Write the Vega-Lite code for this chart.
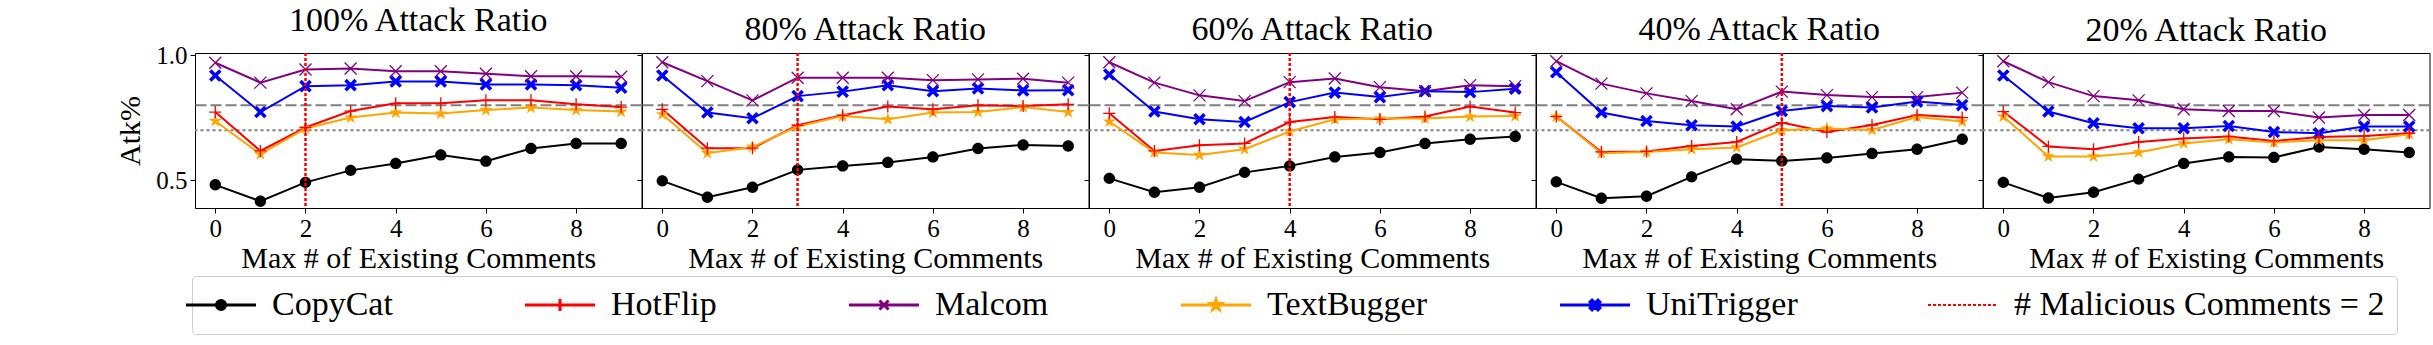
{
  "$schema": "https://vega.github.io/schema/vega-lite/v6.json",
  "padding": {"left": 115, "top": 3, "right": 0, "bottom": 0},
  "background": "white",
  "spacing": 0,
  "bounds": "flush",
  "datasets": {
    "thresholds": [{"line": "upper", "level": 0.8}, {"line": "lower", "level": 0.7}],
    "vlines": [
      {"ratio": "100%", "malicious": 2},
      {"ratio": "80%", "malicious": 3},
      {"ratio": "60%", "malicious": 4},
      {"ratio": "40%", "malicious": 5}
    ],
    "atk": [
      {"ratio": "100%", "method": "CopyCat", "comments": 0, "atk": 0.481},
      {"ratio": "100%", "method": "CopyCat", "comments": 1, "atk": 0.415},
      {"ratio": "100%", "method": "CopyCat", "comments": 2, "atk": 0.491},
      {"ratio": "100%", "method": "CopyCat", "comments": 3, "atk": 0.539},
      {"ratio": "100%", "method": "CopyCat", "comments": 4, "atk": 0.567},
      {"ratio": "100%", "method": "CopyCat", "comments": 5, "atk": 0.601},
      {"ratio": "100%", "method": "CopyCat", "comments": 6, "atk": 0.576},
      {"ratio": "100%", "method": "CopyCat", "comments": 7, "atk": 0.627},
      {"ratio": "100%", "method": "CopyCat", "comments": 8, "atk": 0.647},
      {"ratio": "100%", "method": "CopyCat", "comments": 9, "atk": 0.647},
      {"ratio": "100%", "method": "HotFlip", "comments": 0, "atk": 0.773},
      {"ratio": "100%", "method": "HotFlip", "comments": 1, "atk": 0.617},
      {"ratio": "100%", "method": "HotFlip", "comments": 2, "atk": 0.711},
      {"ratio": "100%", "method": "HotFlip", "comments": 3, "atk": 0.777},
      {"ratio": "100%", "method": "HotFlip", "comments": 4, "atk": 0.808},
      {"ratio": "100%", "method": "HotFlip", "comments": 5, "atk": 0.808},
      {"ratio": "100%", "method": "HotFlip", "comments": 6, "atk": 0.820},
      {"ratio": "100%", "method": "HotFlip", "comments": 7, "atk": 0.820},
      {"ratio": "100%", "method": "HotFlip", "comments": 8, "atk": 0.804},
      {"ratio": "100%", "method": "HotFlip", "comments": 9, "atk": 0.793},
      {"ratio": "100%", "method": "Malcom", "comments": 0, "atk": 0.971},
      {"ratio": "100%", "method": "Malcom", "comments": 1, "atk": 0.891},
      {"ratio": "100%", "method": "Malcom", "comments": 2, "atk": 0.944},
      {"ratio": "100%", "method": "Malcom", "comments": 3, "atk": 0.948},
      {"ratio": "100%", "method": "Malcom", "comments": 4, "atk": 0.937},
      {"ratio": "100%", "method": "Malcom", "comments": 5, "atk": 0.937},
      {"ratio": "100%", "method": "Malcom", "comments": 6, "atk": 0.927},
      {"ratio": "100%", "method": "Malcom", "comments": 7, "atk": 0.917},
      {"ratio": "100%", "method": "Malcom", "comments": 8, "atk": 0.917},
      {"ratio": "100%", "method": "Malcom", "comments": 9, "atk": 0.915},
      {"ratio": "100%", "method": "TextBugger", "comments": 0, "atk": 0.737},
      {"ratio": "100%", "method": "TextBugger", "comments": 1, "atk": 0.604},
      {"ratio": "100%", "method": "TextBugger", "comments": 2, "atk": 0.707},
      {"ratio": "100%", "method": "TextBugger", "comments": 3, "atk": 0.751},
      {"ratio": "100%", "method": "TextBugger", "comments": 4, "atk": 0.771},
      {"ratio": "100%", "method": "TextBugger", "comments": 5, "atk": 0.767},
      {"ratio": "100%", "method": "TextBugger", "comments": 6, "atk": 0.781},
      {"ratio": "100%", "method": "TextBugger", "comments": 7, "atk": 0.791},
      {"ratio": "100%", "method": "TextBugger", "comments": 8, "atk": 0.781},
      {"ratio": "100%", "method": "TextBugger", "comments": 9, "atk": 0.775},
      {"ratio": "100%", "method": "UniTrigger", "comments": 0, "atk": 0.920},
      {"ratio": "100%", "method": "UniTrigger", "comments": 1, "atk": 0.773},
      {"ratio": "100%", "method": "UniTrigger", "comments": 2, "atk": 0.877},
      {"ratio": "100%", "method": "UniTrigger", "comments": 3, "atk": 0.881},
      {"ratio": "100%", "method": "UniTrigger", "comments": 4, "atk": 0.896},
      {"ratio": "100%", "method": "UniTrigger", "comments": 5, "atk": 0.896},
      {"ratio": "100%", "method": "UniTrigger", "comments": 6, "atk": 0.884},
      {"ratio": "100%", "method": "UniTrigger", "comments": 7, "atk": 0.884},
      {"ratio": "100%", "method": "UniTrigger", "comments": 8, "atk": 0.881},
      {"ratio": "100%", "method": "UniTrigger", "comments": 9, "atk": 0.871},

      {"ratio": "80%", "method": "CopyCat", "comments": 0, "atk": 0.497},
      {"ratio": "80%", "method": "CopyCat", "comments": 1, "atk": 0.431},
      {"ratio": "80%", "method": "CopyCat", "comments": 2, "atk": 0.471},
      {"ratio": "80%", "method": "CopyCat", "comments": 3, "atk": 0.541},
      {"ratio": "80%", "method": "CopyCat", "comments": 4, "atk": 0.557},
      {"ratio": "80%", "method": "CopyCat", "comments": 5, "atk": 0.571},
      {"ratio": "80%", "method": "CopyCat", "comments": 6, "atk": 0.593},
      {"ratio": "80%", "method": "CopyCat", "comments": 7, "atk": 0.627},
      {"ratio": "80%", "method": "CopyCat", "comments": 8, "atk": 0.641},
      {"ratio": "80%", "method": "CopyCat", "comments": 9, "atk": 0.637},
      {"ratio": "80%", "method": "HotFlip", "comments": 0, "atk": 0.784},
      {"ratio": "80%", "method": "HotFlip", "comments": 1, "atk": 0.628},
      {"ratio": "80%", "method": "HotFlip", "comments": 2, "atk": 0.628},
      {"ratio": "80%", "method": "HotFlip", "comments": 3, "atk": 0.720},
      {"ratio": "80%", "method": "HotFlip", "comments": 4, "atk": 0.760},
      {"ratio": "80%", "method": "HotFlip", "comments": 5, "atk": 0.795},
      {"ratio": "80%", "method": "HotFlip", "comments": 6, "atk": 0.784},
      {"ratio": "80%", "method": "HotFlip", "comments": 7, "atk": 0.800},
      {"ratio": "80%", "method": "HotFlip", "comments": 8, "atk": 0.797},
      {"ratio": "80%", "method": "HotFlip", "comments": 9, "atk": 0.804},
      {"ratio": "80%", "method": "Malcom", "comments": 0, "atk": 0.973},
      {"ratio": "80%", "method": "Malcom", "comments": 1, "atk": 0.897},
      {"ratio": "80%", "method": "Malcom", "comments": 2, "atk": 0.820},
      {"ratio": "80%", "method": "Malcom", "comments": 3, "atk": 0.911},
      {"ratio": "80%", "method": "Malcom", "comments": 4, "atk": 0.911},
      {"ratio": "80%", "method": "Malcom", "comments": 5, "atk": 0.911},
      {"ratio": "80%", "method": "Malcom", "comments": 6, "atk": 0.901},
      {"ratio": "80%", "method": "Malcom", "comments": 7, "atk": 0.904},
      {"ratio": "80%", "method": "Malcom", "comments": 8, "atk": 0.907},
      {"ratio": "80%", "method": "Malcom", "comments": 9, "atk": 0.891},
      {"ratio": "80%", "method": "TextBugger", "comments": 0, "atk": 0.764},
      {"ratio": "80%", "method": "TextBugger", "comments": 1, "atk": 0.608},
      {"ratio": "80%", "method": "TextBugger", "comments": 2, "atk": 0.633},
      {"ratio": "80%", "method": "TextBugger", "comments": 3, "atk": 0.715},
      {"ratio": "80%", "method": "TextBugger", "comments": 4, "atk": 0.757},
      {"ratio": "80%", "method": "TextBugger", "comments": 5, "atk": 0.744},
      {"ratio": "80%", "method": "TextBugger", "comments": 6, "atk": 0.771},
      {"ratio": "80%", "method": "TextBugger", "comments": 7, "atk": 0.773},
      {"ratio": "80%", "method": "TextBugger", "comments": 8, "atk": 0.793},
      {"ratio": "80%", "method": "TextBugger", "comments": 9, "atk": 0.773},
      {"ratio": "80%", "method": "UniTrigger", "comments": 0, "atk": 0.920},
      {"ratio": "80%", "method": "UniTrigger", "comments": 1, "atk": 0.771},
      {"ratio": "80%", "method": "UniTrigger", "comments": 2, "atk": 0.748},
      {"ratio": "80%", "method": "UniTrigger", "comments": 3, "atk": 0.837},
      {"ratio": "80%", "method": "UniTrigger", "comments": 4, "atk": 0.855},
      {"ratio": "80%", "method": "UniTrigger", "comments": 5, "atk": 0.881},
      {"ratio": "80%", "method": "UniTrigger", "comments": 6, "atk": 0.857},
      {"ratio": "80%", "method": "UniTrigger", "comments": 7, "atk": 0.868},
      {"ratio": "80%", "method": "UniTrigger", "comments": 8, "atk": 0.860},
      {"ratio": "80%", "method": "UniTrigger", "comments": 9, "atk": 0.861},

      {"ratio": "60%", "method": "CopyCat", "comments": 0, "atk": 0.507},
      {"ratio": "60%", "method": "CopyCat", "comments": 1, "atk": 0.451},
      {"ratio": "60%", "method": "CopyCat", "comments": 2, "atk": 0.471},
      {"ratio": "60%", "method": "CopyCat", "comments": 3, "atk": 0.531},
      {"ratio": "60%", "method": "CopyCat", "comments": 4, "atk": 0.557},
      {"ratio": "60%", "method": "CopyCat", "comments": 5, "atk": 0.593},
      {"ratio": "60%", "method": "CopyCat", "comments": 6, "atk": 0.611},
      {"ratio": "60%", "method": "CopyCat", "comments": 7, "atk": 0.647},
      {"ratio": "60%", "method": "CopyCat", "comments": 8, "atk": 0.664},
      {"ratio": "60%", "method": "CopyCat", "comments": 9, "atk": 0.675},
      {"ratio": "60%", "method": "HotFlip", "comments": 0, "atk": 0.768},
      {"ratio": "60%", "method": "HotFlip", "comments": 1, "atk": 0.617},
      {"ratio": "60%", "method": "HotFlip", "comments": 2, "atk": 0.640},
      {"ratio": "60%", "method": "HotFlip", "comments": 3, "atk": 0.647},
      {"ratio": "60%", "method": "HotFlip", "comments": 4, "atk": 0.733},
      {"ratio": "60%", "method": "HotFlip", "comments": 5, "atk": 0.753},
      {"ratio": "60%", "method": "HotFlip", "comments": 6, "atk": 0.744},
      {"ratio": "60%", "method": "HotFlip", "comments": 7, "atk": 0.755},
      {"ratio": "60%", "method": "HotFlip", "comments": 8, "atk": 0.795},
      {"ratio": "60%", "method": "HotFlip", "comments": 9, "atk": 0.771},
      {"ratio": "60%", "method": "Malcom", "comments": 0, "atk": 0.973},
      {"ratio": "60%", "method": "Malcom", "comments": 1, "atk": 0.891},
      {"ratio": "60%", "method": "Malcom", "comments": 2, "atk": 0.840},
      {"ratio": "60%", "method": "Malcom", "comments": 3, "atk": 0.817},
      {"ratio": "60%", "method": "Malcom", "comments": 4, "atk": 0.893},
      {"ratio": "60%", "method": "Malcom", "comments": 5, "atk": 0.908},
      {"ratio": "60%", "method": "Malcom", "comments": 6, "atk": 0.873},
      {"ratio": "60%", "method": "Malcom", "comments": 7, "atk": 0.857},
      {"ratio": "60%", "method": "Malcom", "comments": 8, "atk": 0.881},
      {"ratio": "60%", "method": "Malcom", "comments": 9, "atk": 0.877},
      {"ratio": "60%", "method": "TextBugger", "comments": 0, "atk": 0.735},
      {"ratio": "60%", "method": "TextBugger", "comments": 1, "atk": 0.611},
      {"ratio": "60%", "method": "TextBugger", "comments": 2, "atk": 0.601},
      {"ratio": "60%", "method": "TextBugger", "comments": 3, "atk": 0.624},
      {"ratio": "60%", "method": "TextBugger", "comments": 4, "atk": 0.695},
      {"ratio": "60%", "method": "TextBugger", "comments": 5, "atk": 0.744},
      {"ratio": "60%", "method": "TextBugger", "comments": 6, "atk": 0.747},
      {"ratio": "60%", "method": "TextBugger", "comments": 7, "atk": 0.747},
      {"ratio": "60%", "method": "TextBugger", "comments": 8, "atk": 0.755},
      {"ratio": "60%", "method": "TextBugger", "comments": 9, "atk": 0.757},
      {"ratio": "60%", "method": "UniTrigger", "comments": 0, "atk": 0.924},
      {"ratio": "60%", "method": "UniTrigger", "comments": 1, "atk": 0.775},
      {"ratio": "60%", "method": "UniTrigger", "comments": 2, "atk": 0.744},
      {"ratio": "60%", "method": "UniTrigger", "comments": 3, "atk": 0.733},
      {"ratio": "60%", "method": "UniTrigger", "comments": 4, "atk": 0.813},
      {"ratio": "60%", "method": "UniTrigger", "comments": 5, "atk": 0.851},
      {"ratio": "60%", "method": "UniTrigger", "comments": 6, "atk": 0.833},
      {"ratio": "60%", "method": "UniTrigger", "comments": 7, "atk": 0.857},
      {"ratio": "60%", "method": "UniTrigger", "comments": 8, "atk": 0.853},
      {"ratio": "60%", "method": "UniTrigger", "comments": 9, "atk": 0.867},

      {"ratio": "40%", "method": "CopyCat", "comments": 0, "atk": 0.493},
      {"ratio": "40%", "method": "CopyCat", "comments": 1, "atk": 0.427},
      {"ratio": "40%", "method": "CopyCat", "comments": 2, "atk": 0.435},
      {"ratio": "40%", "method": "CopyCat", "comments": 3, "atk": 0.513},
      {"ratio": "40%", "method": "CopyCat", "comments": 4, "atk": 0.584},
      {"ratio": "40%", "method": "CopyCat", "comments": 5, "atk": 0.577},
      {"ratio": "40%", "method": "CopyCat", "comments": 6, "atk": 0.589},
      {"ratio": "40%", "method": "CopyCat", "comments": 7, "atk": 0.607},
      {"ratio": "40%", "method": "CopyCat", "comments": 8, "atk": 0.624},
      {"ratio": "40%", "method": "CopyCat", "comments": 9, "atk": 0.664},
      {"ratio": "40%", "method": "HotFlip", "comments": 0, "atk": 0.755},
      {"ratio": "40%", "method": "HotFlip", "comments": 1, "atk": 0.613},
      {"ratio": "40%", "method": "HotFlip", "comments": 2, "atk": 0.615},
      {"ratio": "40%", "method": "HotFlip", "comments": 3, "atk": 0.637},
      {"ratio": "40%", "method": "HotFlip", "comments": 4, "atk": 0.653},
      {"ratio": "40%", "method": "HotFlip", "comments": 5, "atk": 0.731},
      {"ratio": "40%", "method": "HotFlip", "comments": 6, "atk": 0.693},
      {"ratio": "40%", "method": "HotFlip", "comments": 7, "atk": 0.721},
      {"ratio": "40%", "method": "HotFlip", "comments": 8, "atk": 0.761},
      {"ratio": "40%", "method": "HotFlip", "comments": 9, "atk": 0.751},
      {"ratio": "40%", "method": "Malcom", "comments": 0, "atk": 0.977},
      {"ratio": "40%", "method": "Malcom", "comments": 1, "atk": 0.887},
      {"ratio": "40%", "method": "Malcom", "comments": 2, "atk": 0.848},
      {"ratio": "40%", "method": "Malcom", "comments": 3, "atk": 0.817},
      {"ratio": "40%", "method": "Malcom", "comments": 4, "atk": 0.784},
      {"ratio": "40%", "method": "Malcom", "comments": 5, "atk": 0.855},
      {"ratio": "40%", "method": "Malcom", "comments": 6, "atk": 0.841},
      {"ratio": "40%", "method": "Malcom", "comments": 7, "atk": 0.833},
      {"ratio": "40%", "method": "Malcom", "comments": 8, "atk": 0.833},
      {"ratio": "40%", "method": "Malcom", "comments": 9, "atk": 0.851},
      {"ratio": "40%", "method": "TextBugger", "comments": 0, "atk": 0.755},
      {"ratio": "40%", "method": "TextBugger", "comments": 1, "atk": 0.608},
      {"ratio": "40%", "method": "TextBugger", "comments": 2, "atk": 0.613},
      {"ratio": "40%", "method": "TextBugger", "comments": 3, "atk": 0.624},
      {"ratio": "40%", "method": "TextBugger", "comments": 4, "atk": 0.631},
      {"ratio": "40%", "method": "TextBugger", "comments": 5, "atk": 0.700},
      {"ratio": "40%", "method": "TextBugger", "comments": 6, "atk": 0.707},
      {"ratio": "40%", "method": "TextBugger", "comments": 7, "atk": 0.701},
      {"ratio": "40%", "method": "TextBugger", "comments": 8, "atk": 0.753},
      {"ratio": "40%", "method": "TextBugger", "comments": 9, "atk": 0.735},
      {"ratio": "40%", "method": "UniTrigger", "comments": 0, "atk": 0.933},
      {"ratio": "40%", "method": "UniTrigger", "comments": 1, "atk": 0.771},
      {"ratio": "40%", "method": "UniTrigger", "comments": 2, "atk": 0.737},
      {"ratio": "40%", "method": "UniTrigger", "comments": 3, "atk": 0.720},
      {"ratio": "40%", "method": "UniTrigger", "comments": 4, "atk": 0.715},
      {"ratio": "40%", "method": "UniTrigger", "comments": 5, "atk": 0.777},
      {"ratio": "40%", "method": "UniTrigger", "comments": 6, "atk": 0.797},
      {"ratio": "40%", "method": "UniTrigger", "comments": 7, "atk": 0.791},
      {"ratio": "40%", "method": "UniTrigger", "comments": 8, "atk": 0.815},
      {"ratio": "40%", "method": "UniTrigger", "comments": 9, "atk": 0.801},

      {"ratio": "20%", "method": "CopyCat", "comments": 0, "atk": 0.491},
      {"ratio": "20%", "method": "CopyCat", "comments": 1, "atk": 0.428},
      {"ratio": "20%", "method": "CopyCat", "comments": 2, "atk": 0.451},
      {"ratio": "20%", "method": "CopyCat", "comments": 3, "atk": 0.504},
      {"ratio": "20%", "method": "CopyCat", "comments": 4, "atk": 0.567},
      {"ratio": "20%", "method": "CopyCat", "comments": 5, "atk": 0.593},
      {"ratio": "20%", "method": "CopyCat", "comments": 6, "atk": 0.591},
      {"ratio": "20%", "method": "CopyCat", "comments": 7, "atk": 0.633},
      {"ratio": "20%", "method": "CopyCat", "comments": 8, "atk": 0.624},
      {"ratio": "20%", "method": "CopyCat", "comments": 9, "atk": 0.611},
      {"ratio": "20%", "method": "HotFlip", "comments": 0, "atk": 0.775},
      {"ratio": "20%", "method": "HotFlip", "comments": 1, "atk": 0.635},
      {"ratio": "20%", "method": "HotFlip", "comments": 2, "atk": 0.624},
      {"ratio": "20%", "method": "HotFlip", "comments": 3, "atk": 0.653},
      {"ratio": "20%", "method": "HotFlip", "comments": 4, "atk": 0.667},
      {"ratio": "20%", "method": "HotFlip", "comments": 5, "atk": 0.675},
      {"ratio": "20%", "method": "HotFlip", "comments": 6, "atk": 0.657},
      {"ratio": "20%", "method": "HotFlip", "comments": 7, "atk": 0.673},
      {"ratio": "20%", "method": "HotFlip", "comments": 8, "atk": 0.677},
      {"ratio": "20%", "method": "HotFlip", "comments": 9, "atk": 0.688},
      {"ratio": "20%", "method": "Malcom", "comments": 0, "atk": 0.977},
      {"ratio": "20%", "method": "Malcom", "comments": 1, "atk": 0.893},
      {"ratio": "20%", "method": "Malcom", "comments": 2, "atk": 0.837},
      {"ratio": "20%", "method": "Malcom", "comments": 3, "atk": 0.820},
      {"ratio": "20%", "method": "Malcom", "comments": 4, "atk": 0.784},
      {"ratio": "20%", "method": "Malcom", "comments": 5, "atk": 0.777},
      {"ratio": "20%", "method": "Malcom", "comments": 6, "atk": 0.777},
      {"ratio": "20%", "method": "Malcom", "comments": 7, "atk": 0.751},
      {"ratio": "20%", "method": "Malcom", "comments": 8, "atk": 0.761},
      {"ratio": "20%", "method": "Malcom", "comments": 9, "atk": 0.761},
      {"ratio": "20%", "method": "TextBugger", "comments": 0, "atk": 0.755},
      {"ratio": "20%", "method": "TextBugger", "comments": 1, "atk": 0.595},
      {"ratio": "20%", "method": "TextBugger", "comments": 2, "atk": 0.595},
      {"ratio": "20%", "method": "TextBugger", "comments": 3, "atk": 0.611},
      {"ratio": "20%", "method": "TextBugger", "comments": 4, "atk": 0.647},
      {"ratio": "20%", "method": "TextBugger", "comments": 5, "atk": 0.664},
      {"ratio": "20%", "method": "TextBugger", "comments": 6, "atk": 0.651},
      {"ratio": "20%", "method": "TextBugger", "comments": 7, "atk": 0.660},
      {"ratio": "20%", "method": "TextBugger", "comments": 8, "atk": 0.660},
      {"ratio": "20%", "method": "TextBugger", "comments": 9, "atk": 0.684},
      {"ratio": "20%", "method": "UniTrigger", "comments": 0, "atk": 0.920},
      {"ratio": "20%", "method": "UniTrigger", "comments": 1, "atk": 0.775},
      {"ratio": "20%", "method": "UniTrigger", "comments": 2, "atk": 0.728},
      {"ratio": "20%", "method": "UniTrigger", "comments": 3, "atk": 0.708},
      {"ratio": "20%", "method": "UniTrigger", "comments": 4, "atk": 0.708},
      {"ratio": "20%", "method": "UniTrigger", "comments": 5, "atk": 0.717},
      {"ratio": "20%", "method": "UniTrigger", "comments": 6, "atk": 0.693},
      {"ratio": "20%", "method": "UniTrigger", "comments": 7, "atk": 0.688},
      {"ratio": "20%", "method": "UniTrigger", "comments": 8, "atk": 0.715},
      {"ratio": "20%", "method": "UniTrigger", "comments": 9, "atk": 0.715}
    ]
  },
  "hconcat": [
    {
      "title": "100% Attack Ratio",
      "width": 446.5, "height": 155,
      "layer": [
        {"data": {"name": "thresholds"}, "transform": [{"filter": "datum.line === 'upper'"}], "mark": {"type": "rule", "color": "#808080", "strokeWidth": 2, "strokeDash": [11, 4]}, "encoding": {"y": {"field": "level", "type": "quantitative"}}},
        {"data": {"name": "thresholds"}, "transform": [{"filter": "datum.line === 'lower'"}], "mark": {"type": "rule", "color": "#808080", "strokeWidth": 2, "strokeDash": [3, 3]}, "encoding": {"y": {"field": "level", "type": "quantitative"}}},
        {"data": {"name": "atk"}, "transform": [{"filter": "datum.ratio === '100%'"}], "mark": {"type": "line", "strokeWidth": 2},
          "encoding": {
            "x": {"field": "comments", "type": "quantitative", "scale": {"domain": [-0.45, 9.45], "nice": false, "zero": false}, "axis": {"values": [0, 2, 4, 6, 8], "title": "Max # of Existing Comments"}},
            "y": {"field": "atk", "type": "quantitative", "scale": {"domain": [0.388, 1.01], "nice": false, "zero": false}, "axis": {"values": [0.5, 1.0], "format": ".1f", "title": "Atk%", "titlePadding": 10}},
            "color": {"field": "method", "type": "nominal",
              "scale": {"domain": ["CopyCat", "HotFlip", "Malcom", "TextBugger", "UniTrigger", "# Malicious Comments = 2"], "range": ["#000000", "#ff0000", "#800080", "#ffa500", "#0000ff", "#ff0000"]},
              "legend": {
                "title": null, "orient": "none", "legendX": -3, "legendY": 223, "direction": "horizontal", "symbolSize": 4900, "labelFontSize": 34, "labelFont": "Liberation Serif", "labelColor": "black", "labelOffset": 34, "labelLimit": 600, "columnPadding": 126, "padding": 12, "strokeColor": "#cccccc", "fillColor": "white", "cornerRadius": 4,
                "encode": {
                  "labels": {"update": {"font": {"value": "Liberation Serif"}, "fontSize": {"value": 34}, "fill": {"value": "#000000"}}},
                  "symbols": {"update": {
                  "shape": {"signal": "datum.value === 'CopyCat' ? 'M-1,0H1M0.13,0A0.13,0.13,0,1,1,-0.13,0A0.13,0.13,0,1,1,0.13,0Z' : datum.value === 'HotFlip' ? 'M-1,0H1M0,-0.17V0.17' : datum.value === 'Malcom' ? 'M-1,0H1M-0.13,-0.13L0.13,0.13M-0.13,0.13L0.13,-0.13' : datum.value === 'TextBugger' ? 'M-1,0H1M0,-0.15L0.034,-0.046L0.143,-0.046L0.054,0.018L0.088,0.121L0,0.057L-0.088,0.121L-0.054,0.018L-0.143,-0.046L-0.034,-0.046Z' : datum.value === 'UniTrigger' ? 'M-1,0H1M0,-0.056L0.084,-0.14L0.14,-0.084L0.056,0L0.14,0.084L0.084,0.14L0,0.056L-0.084,0.14L-0.14,0.084L-0.056,0L-0.14,-0.084L-0.084,-0.14Z' : 'M-1,0H-0.914M-0.857,0H-0.771M-0.714,0H-0.629M-0.571,0H-0.486M-0.429,0H-0.343M-0.286,0H-0.2M-0.143,0H-0.057M0,0H0.086M0.143,0H0.229M0.286,0H0.371M0.429,0H0.514M0.571,0H0.657M0.714,0H0.8M0.857,0H0.943'"},
                  "fill": {"scale": "color", "field": "value"},
                  "stroke": {"scale": "color", "field": "value"},
                  "strokeWidth": {"signal": "datum.value === '# Malicious Comments = 2' ? 2 : 3"},
                  "opacity": {"value": 1},
                  "size": {"value": 4900}
                }}}
              }
            }
          }
        },
        {"data": {"name": "atk"}, "transform": [{"filter": "datum.ratio === '100%' && (datum.method === 'CopyCat' || datum.method === 'TextBugger' || datum.method === 'UniTrigger')"}], "mark": {"type": "point", "filled": true, "opacity": 1, "size": 144},
          "encoding": {
            "x": {"field": "comments", "type": "quantitative"},
            "y": {"field": "atk", "type": "quantitative"},
            "color": {"field": "method", "type": "nominal", "legend": null},
            "shape": {"field": "method", "type": "nominal", "legend": null, "scale": {"domain": ["CopyCat", "HotFlip", "Malcom", "TextBugger", "UniTrigger"], "range": ["M0.95,0A0.95,0.95,0,1,1,-0.95,0A0.95,0.95,0,1,1,0.95,0Z", "M-1,0H1M0,-1V1", "M-1,-1L1,1M-1,1L1,-1", "M0,-1.15L0.259,-0.355L1.094,-0.355L0.417,0.136L0.676,0.93L0,0.439L-0.676,0.93L-0.417,0.136L-1.094,-0.355L-0.259,-0.355Z", "M0,-0.42L0.63,-1.05L1.05,-0.63L0.42,0L1.05,0.63L0.63,1.05L0,0.42L-0.63,1.05L-1.05,0.63L-0.42,0L-1.05,-0.63L-0.63,-1.05Z"]}}
          }
        },
        {"data": {"name": "atk"}, "transform": [{"filter": "datum.ratio === '100%' && (datum.method === 'HotFlip' || datum.method === 'Malcom')"}], "mark": {"type": "point", "filled": false, "opacity": 1, "size": 144, "strokeWidth": 1.3},
          "encoding": {
            "x": {"field": "comments", "type": "quantitative"},
            "y": {"field": "atk", "type": "quantitative"},
            "color": {"field": "method", "type": "nominal", "legend": null},
            "shape": {"field": "method", "type": "nominal", "legend": null}
          }
        },
        {"data": {"name": "vlines"}, "transform": [{"filter": "datum.ratio === '100%'"}], "mark": {"type": "rule", "color": "#ff0000", "strokeWidth": 2.5, "strokeDash": [3, 2]}, "encoding": {"x": {"field": "malicious", "type": "quantitative"}}}
      ]
    },
    {
      "title": "80% Attack Ratio",
      "width": 446.5, "height": 155,
      "layer": [
        {"data": {"name": "thresholds"}, "transform": [{"filter": "datum.line === 'upper'"}], "mark": {"type": "rule", "color": "#808080", "strokeWidth": 2, "strokeDash": [11, 4]}, "encoding": {"y": {"field": "level", "type": "quantitative"}}},
        {"data": {"name": "thresholds"}, "transform": [{"filter": "datum.line === 'lower'"}], "mark": {"type": "rule", "color": "#808080", "strokeWidth": 2, "strokeDash": [3, 3]}, "encoding": {"y": {"field": "level", "type": "quantitative"}}},
        {"data": {"name": "atk"}, "transform": [{"filter": "datum.ratio === '80%'"}], "mark": {"type": "line", "strokeWidth": 2},
          "encoding": {
            "x": {"field": "comments", "type": "quantitative", "scale": {"domain": [-0.45, 9.45], "nice": false, "zero": false}, "axis": {"values": [0, 2, 4, 6, 8], "title": "Max # of Existing Comments"}},
            "y": {"field": "atk", "type": "quantitative", "scale": {"domain": [0.388, 1.01], "nice": false, "zero": false}, "axis": {"values": [0.5, 1.0], "labels": false, "title": null}},
            "color": {"field": "method", "type": "nominal", "legend": null}
          }
        },
        {"data": {"name": "atk"}, "transform": [{"filter": "datum.ratio === '80%' && (datum.method === 'CopyCat' || datum.method === 'TextBugger' || datum.method === 'UniTrigger')"}], "mark": {"type": "point", "filled": true, "opacity": 1, "size": 144},
          "encoding": {
            "x": {"field": "comments", "type": "quantitative"},
            "y": {"field": "atk", "type": "quantitative"},
            "color": {"field": "method", "type": "nominal", "legend": null},
            "shape": {"field": "method", "type": "nominal", "legend": null}
          }
        },
        {"data": {"name": "atk"}, "transform": [{"filter": "datum.ratio === '80%' && (datum.method === 'HotFlip' || datum.method === 'Malcom')"}], "mark": {"type": "point", "filled": false, "opacity": 1, "size": 144, "strokeWidth": 1.3},
          "encoding": {
            "x": {"field": "comments", "type": "quantitative"},
            "y": {"field": "atk", "type": "quantitative"},
            "color": {"field": "method", "type": "nominal", "legend": null},
            "shape": {"field": "method", "type": "nominal", "legend": null}
          }
        },
        {"data": {"name": "vlines"}, "transform": [{"filter": "datum.ratio === '80%'"}], "mark": {"type": "rule", "color": "#ff0000", "strokeWidth": 2.5, "strokeDash": [3, 2]}, "encoding": {"x": {"field": "malicious", "type": "quantitative"}}}
      ]
    },
    {
      "title": "60% Attack Ratio",
      "width": 446.5, "height": 155,
      "layer": [
        {"data": {"name": "thresholds"}, "transform": [{"filter": "datum.line === 'upper'"}], "mark": {"type": "rule", "color": "#808080", "strokeWidth": 2, "strokeDash": [11, 4]}, "encoding": {"y": {"field": "level", "type": "quantitative"}}},
        {"data": {"name": "thresholds"}, "transform": [{"filter": "datum.line === 'lower'"}], "mark": {"type": "rule", "color": "#808080", "strokeWidth": 2, "strokeDash": [3, 3]}, "encoding": {"y": {"field": "level", "type": "quantitative"}}},
        {"data": {"name": "atk"}, "transform": [{"filter": "datum.ratio === '60%'"}], "mark": {"type": "line", "strokeWidth": 2},
          "encoding": {
            "x": {"field": "comments", "type": "quantitative", "scale": {"domain": [-0.45, 9.45], "nice": false, "zero": false}, "axis": {"values": [0, 2, 4, 6, 8], "title": "Max # of Existing Comments"}},
            "y": {"field": "atk", "type": "quantitative", "scale": {"domain": [0.388, 1.01], "nice": false, "zero": false}, "axis": {"values": [0.5, 1.0], "labels": false, "title": null}},
            "color": {"field": "method", "type": "nominal", "legend": null}
          }
        },
        {"data": {"name": "atk"}, "transform": [{"filter": "datum.ratio === '60%' && (datum.method === 'CopyCat' || datum.method === 'TextBugger' || datum.method === 'UniTrigger')"}], "mark": {"type": "point", "filled": true, "opacity": 1, "size": 144},
          "encoding": {
            "x": {"field": "comments", "type": "quantitative"},
            "y": {"field": "atk", "type": "quantitative"},
            "color": {"field": "method", "type": "nominal", "legend": null},
            "shape": {"field": "method", "type": "nominal", "legend": null}
          }
        },
        {"data": {"name": "atk"}, "transform": [{"filter": "datum.ratio === '60%' && (datum.method === 'HotFlip' || datum.method === 'Malcom')"}], "mark": {"type": "point", "filled": false, "opacity": 1, "size": 144, "strokeWidth": 1.3},
          "encoding": {
            "x": {"field": "comments", "type": "quantitative"},
            "y": {"field": "atk", "type": "quantitative"},
            "color": {"field": "method", "type": "nominal", "legend": null},
            "shape": {"field": "method", "type": "nominal", "legend": null}
          }
        },
        {"data": {"name": "vlines"}, "transform": [{"filter": "datum.ratio === '60%'"}], "mark": {"type": "rule", "color": "#ff0000", "strokeWidth": 2.5, "strokeDash": [3, 2]}, "encoding": {"x": {"field": "malicious", "type": "quantitative"}}}
      ]
    },
    {
      "title": "40% Attack Ratio",
      "width": 446.5, "height": 155,
      "layer": [
        {"data": {"name": "thresholds"}, "transform": [{"filter": "datum.line === 'upper'"}], "mark": {"type": "rule", "color": "#808080", "strokeWidth": 2, "strokeDash": [11, 4]}, "encoding": {"y": {"field": "level", "type": "quantitative"}}},
        {"data": {"name": "thresholds"}, "transform": [{"filter": "datum.line === 'lower'"}], "mark": {"type": "rule", "color": "#808080", "strokeWidth": 2, "strokeDash": [3, 3]}, "encoding": {"y": {"field": "level", "type": "quantitative"}}},
        {"data": {"name": "atk"}, "transform": [{"filter": "datum.ratio === '40%'"}], "mark": {"type": "line", "strokeWidth": 2},
          "encoding": {
            "x": {"field": "comments", "type": "quantitative", "scale": {"domain": [-0.45, 9.45], "nice": false, "zero": false}, "axis": {"values": [0, 2, 4, 6, 8], "title": "Max # of Existing Comments"}},
            "y": {"field": "atk", "type": "quantitative", "scale": {"domain": [0.388, 1.01], "nice": false, "zero": false}, "axis": {"values": [0.5, 1.0], "labels": false, "title": null}},
            "color": {"field": "method", "type": "nominal", "legend": null}
          }
        },
        {"data": {"name": "atk"}, "transform": [{"filter": "datum.ratio === '40%' && (datum.method === 'CopyCat' || datum.method === 'TextBugger' || datum.method === 'UniTrigger')"}], "mark": {"type": "point", "filled": true, "opacity": 1, "size": 144},
          "encoding": {
            "x": {"field": "comments", "type": "quantitative"},
            "y": {"field": "atk", "type": "quantitative"},
            "color": {"field": "method", "type": "nominal", "legend": null},
            "shape": {"field": "method", "type": "nominal", "legend": null}
          }
        },
        {"data": {"name": "atk"}, "transform": [{"filter": "datum.ratio === '40%' && (datum.method === 'HotFlip' || datum.method === 'Malcom')"}], "mark": {"type": "point", "filled": false, "opacity": 1, "size": 144, "strokeWidth": 1.3},
          "encoding": {
            "x": {"field": "comments", "type": "quantitative"},
            "y": {"field": "atk", "type": "quantitative"},
            "color": {"field": "method", "type": "nominal", "legend": null},
            "shape": {"field": "method", "type": "nominal", "legend": null}
          }
        },
        {"data": {"name": "vlines"}, "transform": [{"filter": "datum.ratio === '40%'"}], "mark": {"type": "rule", "color": "#ff0000", "strokeWidth": 2.5, "strokeDash": [3, 2]}, "encoding": {"x": {"field": "malicious", "type": "quantitative"}}}
      ]
    },
    {
      "title": "20% Attack Ratio",
      "width": 446.5, "height": 155,
      "layer": [
        {"data": {"name": "thresholds"}, "transform": [{"filter": "datum.line === 'upper'"}], "mark": {"type": "rule", "color": "#808080", "strokeWidth": 2, "strokeDash": [11, 4]}, "encoding": {"y": {"field": "level", "type": "quantitative"}}},
        {"data": {"name": "thresholds"}, "transform": [{"filter": "datum.line === 'lower'"}], "mark": {"type": "rule", "color": "#808080", "strokeWidth": 2, "strokeDash": [3, 3]}, "encoding": {"y": {"field": "level", "type": "quantitative"}}},
        {"data": {"name": "atk"}, "transform": [{"filter": "datum.ratio === '20%'"}], "mark": {"type": "line", "strokeWidth": 2},
          "encoding": {
            "x": {"field": "comments", "type": "quantitative", "scale": {"domain": [-0.45, 9.45], "nice": false, "zero": false}, "axis": {"values": [0, 2, 4, 6, 8], "title": "Max # of Existing Comments"}},
            "y": {"field": "atk", "type": "quantitative", "scale": {"domain": [0.388, 1.01], "nice": false, "zero": false}, "axis": {"values": [0.5, 1.0], "labels": false, "title": null}},
            "color": {"field": "method", "type": "nominal", "legend": null}
          }
        },
        {"data": {"name": "atk"}, "transform": [{"filter": "datum.ratio === '20%' && (datum.method === 'CopyCat' || datum.method === 'TextBugger' || datum.method === 'UniTrigger')"}], "mark": {"type": "point", "filled": true, "opacity": 1, "size": 144},
          "encoding": {
            "x": {"field": "comments", "type": "quantitative"},
            "y": {"field": "atk", "type": "quantitative"},
            "color": {"field": "method", "type": "nominal", "legend": null},
            "shape": {"field": "method", "type": "nominal", "legend": null}
          }
        },
        {"data": {"name": "atk"}, "transform": [{"filter": "datum.ratio === '20%' && (datum.method === 'HotFlip' || datum.method === 'Malcom')"}], "mark": {"type": "point", "filled": false, "opacity": 1, "size": 144, "strokeWidth": 1.3},
          "encoding": {
            "x": {"field": "comments", "type": "quantitative"},
            "y": {"field": "atk", "type": "quantitative"},
            "color": {"field": "method", "type": "nominal", "legend": null},
            "shape": {"field": "method", "type": "nominal", "legend": null}
          }
        }
      ]
    }
  ],
  "config": {
    "font": "Liberation Serif",
    "view": {"stroke": "#000000", "strokeWidth": 1},
    "title": {"font": "Liberation Serif", "fontSize": 34, "fontWeight": "normal", "color": "#000000", "baseline": "alphabetic", "offset": 5, "anchor": "middle", "frame": "group"},
    "legend": {"labelFont": "Liberation Serif", "labelFontSize": 34, "labelColor": "#000000"},
    "axis": {"grid": false, "domain": false, "tickColor": "#000000", "tickSize": 5, "tickWidth": 1, "labelColor": "#000000", "labelFont": "Liberation Serif", "labelFontSize": 25, "labelPadding": 3, "titleFont": "Liberation Serif", "titleFontSize": 30, "titleFontWeight": "normal", "titleColor": "#000000", "titlePadding": 2}
  }
}
